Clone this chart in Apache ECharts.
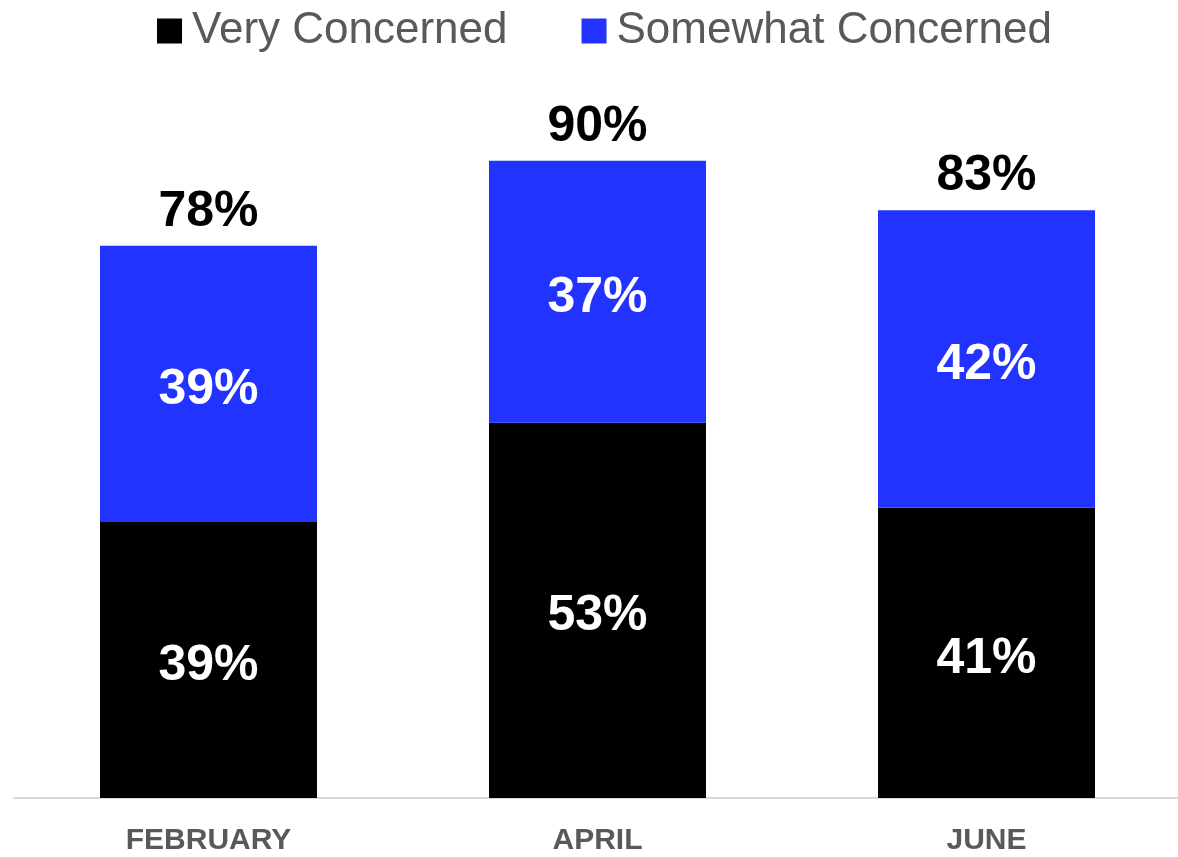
<!DOCTYPE html>
<html>
<head>
<meta charset="utf-8">
<script src="https://cdn.jsdelivr.net/npm/echarts@6/dist/echarts.min.js"></script>
<style>
html,body{margin:0;padding:0;background:#fff;}
#chart{width:1178px;height:857px;}
</style>
</head>
<body>
<div id="chart"></div>
<script>
var categories = ['FEBRUARY', 'APRIL', 'JUNE'];
var veryConcerned = [39, 53, 41];
var somewhatConcerned = [39, 37, 42];
var totals = [78, 90, 83];

var FONT = '"Liberation Sans", Arial, Helvetica, sans-serif';
var chart = echarts.init(document.getElementById('chart'), null, {renderer: 'canvas'});
chart.setOption({
  animation: false,
  backgroundColor: '#ffffff',
  legend: {
    data: ['Very Concerned', 'Somewhat Concerned'],
    left: 152,
    top: 4,
    itemWidth: 25,
    itemHeight: 25,
    itemGap: 74,
    icon: 'rect',
    textStyle: {fontFamily: FONT, fontSize: 44, color: '#595959', padding: [0, 0, 0, 5]}
  },
  grid: {left: 14, width: 1167, top: 90, bottom: 59, containLabel: false, outerBoundsMode: 'none'},
  xAxis: {
    type: 'category',
    data: categories,
    axisLine: {lineStyle: {color: '#d9d9d9', width: 2}},
    axisTick: {show: false},
    axisLabel: {fontFamily: FONT, fontSize: 30, fontWeight: 'bold', color: '#595959', margin: 28}
  },
  yAxis: {type: 'value', min: 0, max: 100, show: false, splitLine: {show: false}},
  series: [
    {
      name: 'Very Concerned', type: 'bar', stack: 's', barWidth: 217,
      data: veryConcerned,
      itemStyle: {color: '#000000'},
      label: {show: true, position: 'inside', offset: [0, 6], formatter: '{c}%', fontFamily: FONT, fontSize: 50, fontWeight: 'bold', color: '#ffffff'}
    },
    {
      name: 'Somewhat Concerned', type: 'bar', stack: 's', barWidth: 217,
      data: somewhatConcerned,
      itemStyle: {color: '#2233ff'},
      label: {show: true, position: 'inside', offset: [0, 6], formatter: '{c}%', fontFamily: FONT, fontSize: 50, fontWeight: 'bold', color: '#ffffff'}
    },
    {
      name: 'Total', type: 'bar', stack: 's', barWidth: 217,
      data: totals.map(function(){return 0;}),
      itemStyle: {color: 'rgba(0,0,0,0)'},
      label: {show: true, position: 'top', distance: 9, formatter: function(p){return totals[p.dataIndex] + '%';}, fontFamily: FONT, fontSize: 50, fontWeight: 'bold', color: '#000000'}
    }
  ]
});
</script>
</body>
</html>
